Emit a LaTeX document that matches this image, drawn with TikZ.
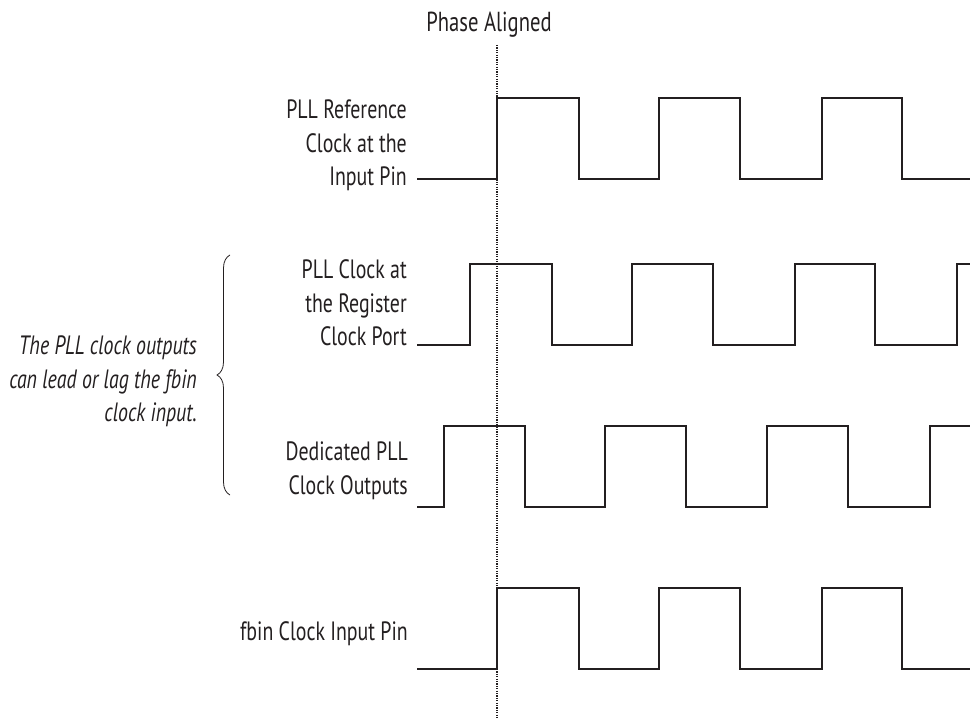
\documentclass[tikz,border=0pt]{standalone}
\usepackage{fontspec}
\setmainfont{PT Sans}[FakeStretch=0.75]
\usetikzlibrary{decorations.pathreplacing}
\definecolor{ink}{HTML}{231F20}
\begin{document}
\begin{tikzpicture}[x=1pt,y=-1pt,
  lbl/.style={align=right,anchor=base east,inner sep=0pt,font=\fontsize{26.5}{33.5}\selectfont,text=ink},
  wave/.style={line width=1.3pt,draw=ink,line join=miter},
  guide/.style={line width=1.4pt,draw=ink,dash pattern=on 1.2pt off 1.2pt}]
\useasboundingbox (0,0) rectangle (970,719);
% phase aligned guide
\node[inner sep=0pt,anchor=base,font=\fontsize{27.5}{30}\selectfont,text=ink] (pa) at (489,32) {Phase Aligned};
\coordinate (gtop) at (497,45);
\coordinate (gbot) at (497,719);
\draw[guide] (gtop) -- (gbot);
% labels (anchored at the baseline of the last line)
\node[lbl] (l1) at (407,186) {PLL Reference\\Clock at the\\Input Pin};
\node[lbl] (l2) at (407,346) {PLL Clock at\\the Register\\Clock Port};
\node[lbl] (l3) at (408,494) {Dedicated PLL\\Clock Outputs};
\node[lbl] (l4) at (408,640) {fbin Clock Input Pin};
\node[lbl,font=\itshape\fontsize{26.5}{33.5}\selectfont] (note) at (197,422) {The PLL clock outputs\\can lead or lag the fbin\\clock input.};
% brace
\coordinate (bb) at (230,495);
\coordinate (bt) at (230,255);
\draw[line width=0.8pt,draw=ink,decorate,decoration={brace,amplitude=13pt}] (bb) -- (bt);
% waveforms
\draw[wave] (417,179) -- (497,179) -- (497,98) -- (579,98) -- (579,179) -- (659,179) -- (659,98) -- (740,98) -- (740,179) -- (822,179) -- (822,98) -- (902,98) -- (902,179) -- (970,179);
\draw[wave] (417,345) -- (470,345) -- (470,264) -- (552,264) -- (552,345) -- (632,345) -- (632,264) -- (713,264) -- (713,345) -- (795,345) -- (795,264) -- (875,264) -- (875,345) -- (957,345) -- (957,264) -- (970,264);
\draw[wave] (417,507) -- (444,507) -- (444,426) -- (525,426) -- (525,507) -- (605,507) -- (605,426) -- (686,426) -- (686,507) -- (767,507) -- (767,426) -- (848,426) -- (848,507) -- (930,507) -- (930,426) -- (970,426);
\draw[wave] (417,669) -- (497,669) -- (497,588) -- (579,588) -- (579,669) -- (659,669) -- (659,588) -- (740,588) -- (740,669) -- (822,669) -- (822,588) -- (902,588) -- (902,669) -- (970,669);
\end{tikzpicture}
\end{document}
